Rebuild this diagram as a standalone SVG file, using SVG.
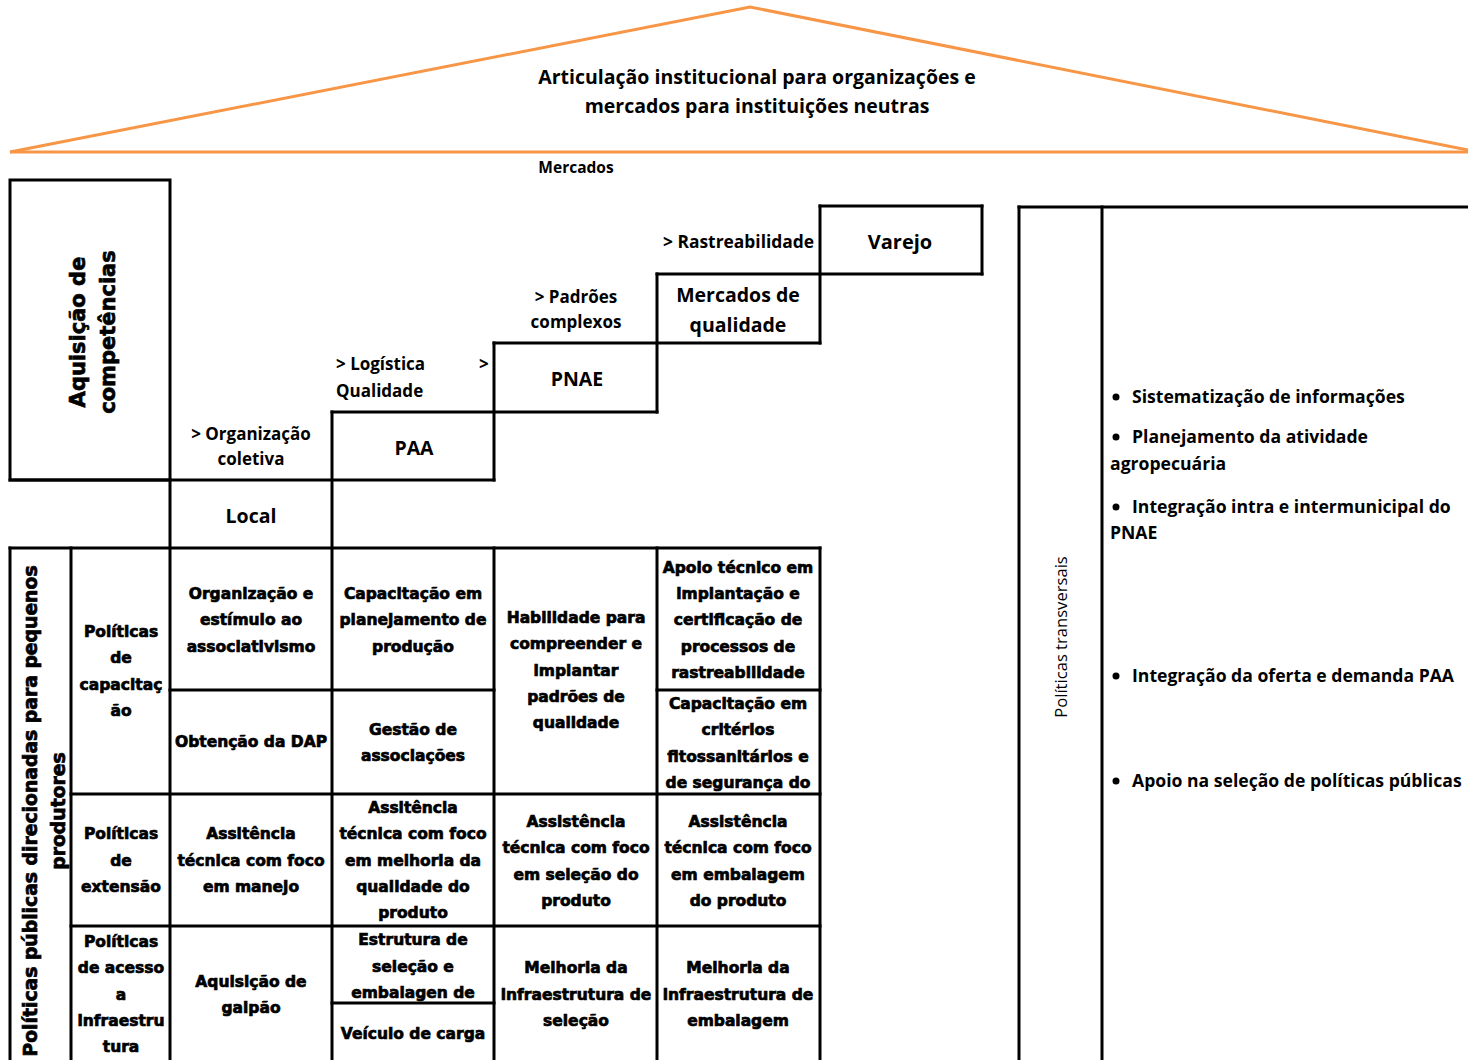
<svg xmlns="http://www.w3.org/2000/svg" width="1468" height="1060" viewBox="0 0 1468 1060">
<style>
.ln{stroke:#000;stroke-width:3;fill:none;stroke-linecap:square}
.roof{stroke:#F79646;stroke-width:3;fill:none;stroke-linejoin:miter}
.c{font-family:"Open Sans",Lato,"Liberation Sans",sans-serif;font-weight:700;fill:#000}
.m{text-anchor:middle}
.h{font-family:"DejaVu Sans","Liberation Sans",Arial,sans-serif;font-weight:700;font-size:15.5px;fill:#000;stroke:#000;stroke-width:0.7;text-anchor:middle}
.r{font-family:"Open Sans",Lato,"Liberation Sans",sans-serif;font-weight:400;fill:#000}
</style>
<rect width="1468" height="1060" fill="#fff"/>

<g id="roof">
<polyline class="roof" points="10,152 750,7 1468,150"/>
<line class="roof" x1="10" y1="152" x2="1468" y2="152"/>
<text class="c m" x="757" y="84" font-size="19.5">Articulação institucional para organizações e</text>
<text class="c m" x="757" y="113" font-size="19.5">mercados para instituições neutras</text>
<text class="c m" x="576" y="173" font-size="15.5">Mercados</text>
</g>

<g id="connectors">
<rect class="ln" x="10" y="180" width="160" height="300"/>
<line class="ln" x1="10" y1="480" x2="494" y2="480"/>
<line class="ln" x1="170" y1="480" x2="170" y2="1060"/>
<line class="ln" x1="332" y1="412" x2="332" y2="1060"/>
<line class="ln" x1="332" y1="412" x2="657" y2="412"/>
<line class="ln" x1="494" y1="343" x2="494" y2="480"/>
<line class="ln" x1="494" y1="343" x2="820" y2="343"/>
<line class="ln" x1="657" y1="274" x2="657" y2="412"/>
<line class="ln" x1="657" y1="274" x2="982" y2="274"/>
<line class="ln" x1="820" y1="206" x2="820" y2="343"/>
<line class="ln" x1="820" y1="206" x2="982" y2="206"/>
<line class="ln" x1="982" y1="206" x2="982" y2="274"/>
<line class="ln" x1="10" y1="548" x2="820" y2="548"/>
<line class="ln" x1="10" y1="548" x2="10" y2="1060"/>
<line class="ln" x1="71" y1="548" x2="71" y2="1060"/>
<line class="ln" x1="494" y1="548" x2="494" y2="1060"/>
<line class="ln" x1="657" y1="548" x2="657" y2="1060"/>
<line class="ln" x1="820" y1="548" x2="820" y2="1060"/>
<line class="ln" x1="170" y1="690" x2="494" y2="690"/>
<line class="ln" x1="657" y1="690" x2="820" y2="690"/>
<line class="ln" x1="71" y1="794" x2="820" y2="794"/>
<line class="ln" x1="71" y1="926" x2="820" y2="926"/>
<line class="ln" x1="332" y1="1003" x2="494" y2="1003"/>
<line class="ln" x1="1019" y1="207" x2="1468" y2="207"/>
<line class="ln" x1="1019" y1="207" x2="1019" y2="1060"/>
<line class="ln" x1="1102" y1="207" x2="1102" y2="1060"/>
</g>

<g id="aquisicao">
<text class="h" transform="translate(85,332) rotate(-90)" style="font-size:21px">Aquisição de</text>
<text class="h" transform="translate(115,332) rotate(-90)" style="font-size:21px">competências</text>
</g>

<g id="step-local">
<text class="c m" x="251" y="440" font-size="17">&gt; Organização</text>
<text class="c m" x="251" y="465" font-size="17">coletiva</text>
<text class="c m" x="251" y="523" font-size="19.5">Local</text>
</g>
<g id="step-paa">
<text class="c" x="336" y="370" font-size="17">&gt;  Logística</text>
<text class="c" x="479" y="370" font-size="17">&gt;</text>
<text class="c" x="336" y="397" font-size="17">Qualidade</text>
<text class="c m" x="414" y="455" font-size="19.5">PAA</text>
</g>
<g id="step-pnae">
<text class="c m" x="576" y="303" font-size="17">&gt; Padrões</text>
<text class="c m" x="576" y="328" font-size="17">complexos</text>
<text class="c m" x="577" y="386" font-size="19.5">PNAE</text>
</g>
<g id="step-mercados">
<text class="c" x="663" y="248" font-size="17.4">&gt; Rastreabilidade</text>
<text class="c m" x="738" y="302" font-size="19.5">Mercados de</text>
<text class="c m" x="738" y="332" font-size="19.5">qualidade</text>
</g>
<g id="step-varejo">
<text class="c m" x="900" y="249" font-size="20">Varejo</text>
</g>

<g id="politicas-publicas">
<text class="h" transform="translate(37,811) rotate(-90)" style="font-size:18.8px">Políticas públicas direcionadas para pequenos</text>
<text class="h" transform="translate(65,811) rotate(-90)" style="font-size:18.8px">produtores</text>
</g>

<g id="row-capacitacao">
<text class="h" x="121" y="637">Políticas</text>
<text class="h" x="121" y="663">de</text>
<text class="h" x="121" y="690">capacitaç</text>
<text class="h" x="121" y="716">ão</text>
</g>
<g id="cell-organizacao">
<text class="h" x="251" y="599">Organização e</text>
<text class="h" x="251" y="625">estímulo ao</text>
<text class="h" x="251" y="652">associativismo</text>
</g>
<g id="cell-dap">
<text class="h" x="251" y="747">Obtenção da DAP</text>
</g>
<g id="cell-cap-planejamento">
<text class="h" x="413" y="599">Capacitação em</text>
<text class="h" x="413" y="625">planejamento de</text>
<text class="h" x="413" y="652">produção</text>
</g>
<g id="cell-gestao">
<text class="h" x="413" y="735">Gestão de</text>
<text class="h" x="413" y="761">associações</text>
</g>
<g id="cell-habilidade">
<text class="h" x="576" y="623">Habilidade para</text>
<text class="h" x="576" y="649">compreender e</text>
<text class="h" x="576" y="676">implantar</text>
<text class="h" x="576" y="702">padrões de</text>
<text class="h" x="576" y="728">qualidade</text>
</g>
<g id="cell-apoio">
<text class="h" x="738" y="573">Apoio técnico em</text>
<text class="h" x="738" y="599">implantação e</text>
<text class="h" x="738" y="625">certificação de</text>
<text class="h" x="738" y="652">processos de</text>
<text class="h" x="738" y="678">rastreabilidade</text>
</g>
<g id="cell-criterios">
<text class="h" x="738" y="709">Capacitação em</text>
<text class="h" x="738" y="735">critérios</text>
<text class="h" x="738" y="762">fitossanitários e</text>
<text class="h" x="738" y="788">de segurança do</text>
</g>

<g id="row-extensao">
<text class="h" x="121" y="839">Políticas</text>
<text class="h" x="121" y="866">de</text>
<text class="h" x="121" y="892">extensão</text>
</g>
<g id="cell-manejo">
<text class="h" x="251" y="839">Assitência</text>
<text class="h" x="251" y="866">técnica com foco</text>
<text class="h" x="251" y="892">em manejo</text>
</g>
<g id="cell-melhoria-qualidade">
<text class="h" x="413" y="813">Assitência</text>
<text class="h" x="413" y="839">técnica com foco</text>
<text class="h" x="413" y="866">em melhoria da</text>
<text class="h" x="413" y="892">qualidade do</text>
<text class="h" x="413" y="918">produto</text>
</g>
<g id="cell-selecao">
<text class="h" x="576" y="827">Assistência</text>
<text class="h" x="576" y="853">técnica com foco</text>
<text class="h" x="576" y="880">em seleção do</text>
<text class="h" x="576" y="906">produto</text>
</g>
<g id="cell-embalagem">
<text class="h" x="738" y="827">Assistência</text>
<text class="h" x="738" y="853">técnica com foco</text>
<text class="h" x="738" y="880">em embalagem</text>
<text class="h" x="738" y="906">do produto</text>
</g>

<g id="row-infraestrutura">
<text class="h" x="121" y="947">Políticas</text>
<text class="h" x="121" y="973">de acesso</text>
<text class="h" x="121" y="1000">a</text>
<text class="h" x="121" y="1026">infraestru</text>
<text class="h" x="121" y="1052">tura</text>
</g>
<g id="cell-galpao">
<text class="h" x="251" y="987">Aquisição de</text>
<text class="h" x="251" y="1013">galpão</text>
</g>
<g id="cell-estrutura">
<text class="h" x="413" y="945">Estrutura de</text>
<text class="h" x="413" y="972">seleção e</text>
<text class="h" x="413" y="998">embalagen de</text>
</g>
<g id="cell-veiculo">
<text class="h" x="413" y="1039">Veículo de carga</text>
</g>
<g id="cell-infra-selecao">
<text class="h" x="576" y="973">Melhoria da</text>
<text class="h" x="576" y="1000">infraestrutura de</text>
<text class="h" x="576" y="1026">seleção</text>
</g>
<g id="cell-infra-embalagem">
<text class="h" x="738" y="973">Melhoria da</text>
<text class="h" x="738" y="1000">infraestrutura de</text>
<text class="h" x="738" y="1026">embalagem</text>
</g>

<g id="transversais">
<text class="r m" transform="translate(1067,637) rotate(-90)" font-size="16.6">Políticas transversais</text>
<circle cx="1116" cy="397" r="3.5"/>
<text class="c" x="1132" y="403" font-size="17.6">Sistematização de informações</text>
<circle cx="1116" cy="437" r="3.5"/>
<text class="c" x="1132" y="443" font-size="17.6">Planejamento da atividade</text>
<text class="c" x="1110" y="470" font-size="17.6">agropecuária</text>
<circle cx="1116" cy="507" r="3.5"/>
<text class="c" x="1132" y="513" font-size="17.6">Integração intra e intermunicipal do</text>
<text class="c" x="1110" y="539" font-size="17.6">PNAE</text>
<circle cx="1116" cy="676" r="3.5"/>
<text class="c" x="1132" y="682" font-size="17.6">Integração da oferta e demanda PAA</text>
<circle cx="1116" cy="781" r="3.5"/>
<text class="c" x="1132" y="787" font-size="17.6">Apoio na seleção de políticas públicas</text>
</g>
</svg>
